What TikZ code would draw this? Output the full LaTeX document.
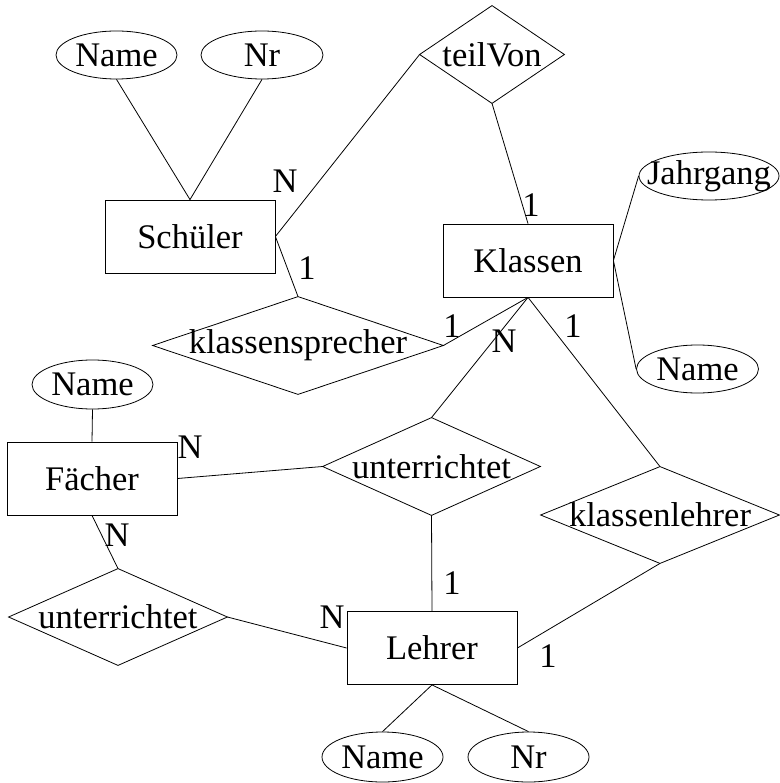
\documentclass[tikz,border=0pt]{standalone}
\usepackage{fontspec}
\setmainfont{Liberation Serif}
\begin{document}
\begin{tikzpicture}[x=1pt,y=-1pt,
  every node/.style={font=\fontsize{34.5}{41}\selectfont, inner sep=0pt},
  ent/.style={draw, rectangle, minimum width=170pt, minimum height=73pt},
  frame/.style={rectangle, minimum width=#1},
  lbl/.style={},
  every path/.style={line width=0.8pt}]
\useasboundingbox (0,0) rectangle (779,783);
% entities
\node[ent] (sch) at (190,236.5) {Schüler};
\node[ent] (kla) at (528,260.5) {Klassen};
\node[ent] (fae) at (92,478.5) {Fächer};
\node[ent] (leh) at (432,648) {Lehrer};
% attributes (ellipses)
\node[frame=121pt, minimum height=48pt] (sName) at (116.5,55) {Name};
\node[frame=122pt, minimum height=48pt] (sNr) at (262,55) {Nr};
\node[frame=140pt, minimum height=48pt] (jahr) at (709,176) {Jahrgang};
\node[frame=122pt, minimum height=48pt] (kName) at (697.5,369) {Name};
\node[frame=121pt, minimum height=49pt] (fName) at (92.5,384.5) {Name};
\node[frame=121pt, minimum height=50pt] (lName) at (382.5,757) {Name};
\node[frame=121pt, minimum height=50pt] (lNr) at (528.5,757) {Nr};
\foreach \n/\rx/\ry in {sName/60.5/24, sNr/61/24, jahr/70/24, kName/61/24, fName/60.5/24.5, lName/60.5/25, lNr/60.5/25}
  \draw (\n.center) ellipse [x radius=\rx pt, y radius=\ry pt];
% relationships (diamonds)
\node[frame=144pt, minimum height=97pt] (teil) at (492,54.5) {teilVon};
\node[frame=290pt, minimum height=97pt] (ksp) at (298,345.5) {klassensprecher};
\node[frame=217pt, minimum height=97pt] (unt1) at (431.5,466.5) {unterrichtet};
\node[frame=238pt, minimum height=96pt] (kl) at (660,515) {klassenlehrer};
\node[frame=218pt, minimum height=96pt] (unt2) at (118,617) {unterrichtet};
\foreach \n in {teil, ksp, unt1, kl, unt2}
  \draw (\n.west) -- (\n.north) -- (\n.east) -- (\n.south) -- cycle;
% connectors
\draw (sName.south) -- (sch.north);
\draw (sNr.south) -- (sch.north);
\draw (sch.east) -- (teil.west);
\draw (teil.south) -- (kla.north);
\draw (sch.east) -- (ksp.north);
\draw (ksp.east) -- (kla.south);
\draw (kla.east) -- (jahr.west);
\draw (kla.east) -- (kName.west);
\draw (kla.south) -- (unt1.north);
\draw (kla.south) -- (kl.north);
\draw (fName.south) -- (fae.north);
\draw (fae.east) -- (unt1.west);
\draw (fae.south) -- (unt2.north);
\draw (unt2.east) -- (leh.west);
\draw (unt1.south) -- (leh.north);
\draw (kl.south) -- (leh.east);
\draw (leh.south) -- (lName.north);
\draw (leh.south) -- (lNr.north);
% cardinalities
\node[lbl] (c1) at (285,181) {N};
\node[lbl] (c2) at (307,268) {1};
\node[lbl] (c3) at (531,205) {1};
\node[lbl] (c4) at (452,326) {1};
\node[lbl] (c5) at (504,341) {N};
\node[lbl] (c6) at (573,326) {1};
\node[lbl] (c7) at (190,447) {N};
\node[lbl] (c8) at (117,535) {N};
\node[lbl] (c9) at (332,617) {N};
\node[lbl] (c10) at (452,583) {1};
\node[lbl] (c11) at (548,656) {1};
\end{tikzpicture}
\end{document}
